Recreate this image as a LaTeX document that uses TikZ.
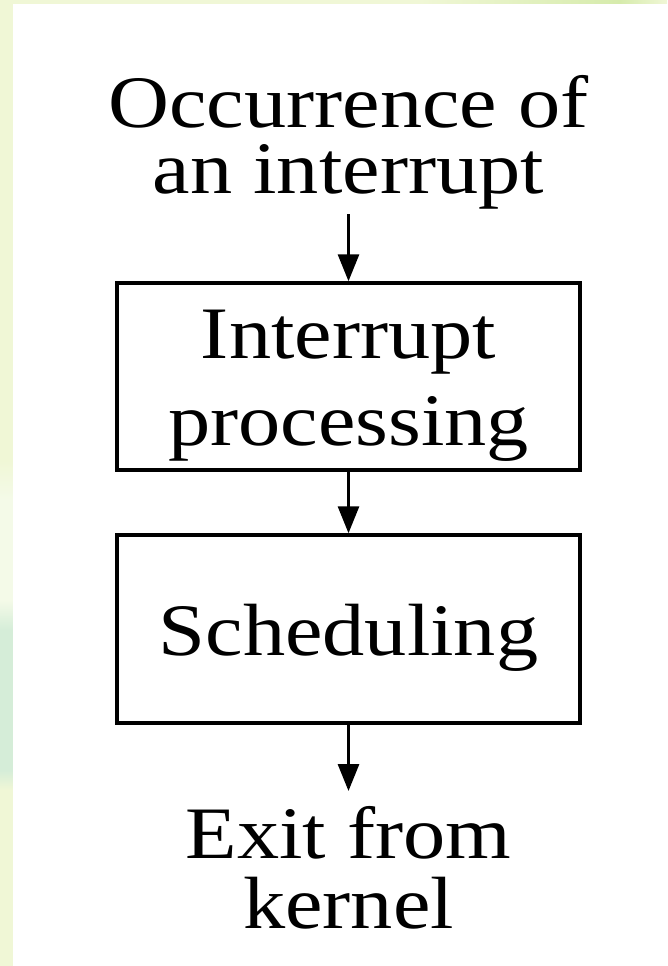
\documentclass[tikz,border=0pt]{standalone}
\usepackage{fontspec}
\setmainfont{Liberation Serif}[FakeStretch=1.14]
\usetikzlibrary{arrows.meta}

\definecolor{edgepale}{RGB}{240,247,214}
\definecolor{edgelight}{RGB}{244,250,232}
\definecolor{edgemint}{RGB}{213,237,216}
\definecolor{edgeleaf}{RGB}{214,235,172}

\tikzset{
  flowbox/.style={draw=black, line width=3.5pt, rectangle, inner sep=0pt,
    minimum width=463pt, align=center, font=\fontsize{74}{87}\selectfont},
  flowlabel/.style={inner sep=0pt, align=center, anchor=north},
  flowarrow/.style={line width=3pt, -{Triangle[length=27pt,width=21pt]}},
}

\begin{document}
\begin{tikzpicture}[x=1pt, y=-1pt]
  % page frame: tinted margin strips on the left and top edges
  \useasboundingbox (0,0) rectangle (667,966);
  \fill[edgepale] (0,0) rectangle (667,966);
  \shade[top color=edgepale, bottom color=edgelight] (0,460) rectangle (13,500);
  \fill[edgelight] (0,500) rectangle (13,600);
  \shade[top color=edgelight, bottom color=edgemint] (0,600) rectangle (13,630);
  \fill[edgemint] (0,630) rectangle (13,770);
  \shade[top color=edgemint, bottom color=edgepale] (0,770) rectangle (13,790);
  \shade[left color=edgepale, right color=edgeleaf] (420,0) rectangle (620,4);
  \shade[left color=edgeleaf, right color=edgepale] (620,0) rectangle (667,4);
  \fill[white] (13,4) rectangle (667,966);

  % flow of the kernel on an interrupt
  \node[flowlabel, font=\fontsize{74}{66}\selectfont] (occ) at (348.5,72)
    {\rule{0pt}{55pt}Occurrence of\\an interrupt};
  \node[flowbox, minimum height=187pt] (ip) at (348.5,376.5)
    {\rule{0pt}{66pt}Interrupt\\processing};
  \node[flowbox, minimum height=188pt] (sch) at (348.5,629)
    {\rule{0pt}{68pt}Scheduling};
  \node[flowlabel, font=\fontsize{74}{70}\selectfont] (exit) at (348.5,803)
    {\rule{0pt}{55pt}Exit from\\kernel};

  \draw[flowarrow, shorten <=5pt] (occ.south) -- (ip.north);
  \draw[flowarrow] (ip.south) -- (sch.north);
  \draw[flowarrow, shorten >=12pt] (sch.south) -- (exit.north);
\end{tikzpicture}
\end{document}
